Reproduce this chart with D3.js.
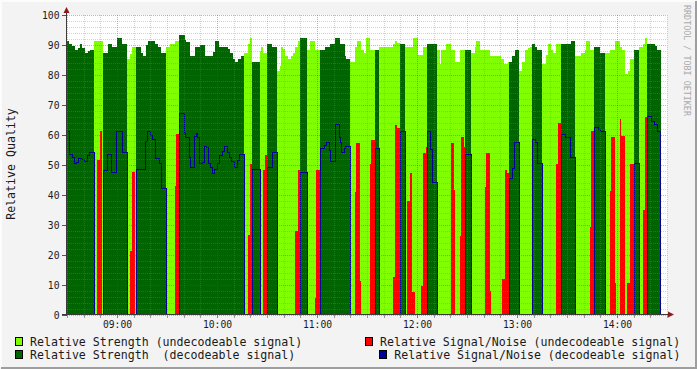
<!DOCTYPE html>
<meta charset="utf-8">
<title>Relative Quality</title>
<body>
<script src="https://d3js.org/d3.v7.min.js"></script>
<style>
  html, body { margin: 0; background: #f3f3f3; overflow: hidden; }
  svg { display: block; }
  text { font-family: "DejaVu Sans Mono", monospace; fill: #1a1a1a; }
</style>
<script>
  // Minutes are counted from 08:30, the left edge of the graph.
  var startTime = new Date(2011, 0, 1, 8, 30);
  var spanMinutes = 360;

  // [minute, value] steps
  var strength = [
    [0,91.3],[1.2,90.4],[3.2,89.7],[4.6,88.4],[6.6,89.1],[7.6,90.3],[9.2,89.1],[10.6,87.4],[12.6,88],[14,88.4],
    [16.2,91.3],[21.6,87.4],[24.6,90.3],[27.2,89.3],[30,92.3],[33,90.3],[36.2,85.3],[38,87.1],[39.2,89.3],[44.2,87.4],
    [45.6,86.4],[47.2,90.1],[48.6,91.3],[52.6,90.3],[54.6,89.3],[56.2,87.4],[59.2,89.4],[61.6,90.3],[64.6,91.3],[67,93.3],
    [70.6,91.6],[71.6,91.1],[73.6,86.4],[76.6,89.2],[79.6,90],[82.6,86.4],[87.6,87.7],[88.6,91.2],[91.2,89.4],[96.6,88.6],
    [98,87.5],[99.6,85.5],[100.6,84.4],[102.6,85.5],[104.2,86.4],[106.2,87.5],[108.6,90.3],[109.6,92.2],[111,84.4],[115.6,88.1],
    [116.6,89.4],[117.6,87.5],[120.2,90.3],[123.2,89.4],[126.2,81.4],[127.6,83],[128.6,89.4],[129.6,88.6],[131,86.4],[132.6,85.5],
    [134.2,86.4],[135.6,87.5],[137,89.4],[138.6,91.3],[139.6,92.3],[144.2,88.4],[146,91.3],[148.6,88.4],[154.6,89.4],[157.6,90.3],
    [160.6,92.3],[163.6,90.3],[166.6,86.4],[167.6,85.3],[170,84.4],[172.6,89.4],[174,91.3],[176.6,88.4],[178.2,87.5],[179.2,92.3],
    [181.6,88.4],[187.4,89.4],[195.6,90.3],[197,91.3],[198.2,90.8],[199.6,90.3],[202.6,89.4],[207.6,92.3],[210.6,86.7],[213.6,89.4],
    [216.2,90.3],[222.2,88.4],[223.6,83.6],[224.6,88.4],[227.6,90.3],[230.2,88.4],[233,84.5],[235.6,88.4],[242.2,87.4],[244.6,89.4],
    [245.6,91.3],[247.6,88.4],[253.6,86.4],[260.6,85.3],[262.2,83.6],[264.6,84.5],[267.2,86.4],[268.6,88.4],[271.2,81.4],[273,84.5],
    [274.6,88.4],[276.6,89],[278,89.4],[279.2,90.3],[280.6,89.4],[282.2,88.4],[285.2,83.6],[287.2,86.7],[288.6,90.3],[290.2,88.4],
    [291.6,87.4],[293.2,90.3],[302.2,91.3],[305,86.4],[308.2,87.4],[310.6,88.4],[311.6,91.3],[313.6,88.4],[316.2,89.4],[319.6,87.4],
    [325.6,88.4],[328.6,91.3],[331.6,89.4],[333,88.4],[334.6,80.5],[336.6,81.4],[338,85.5],[340.2,88.4],[343.2,89.4],[345.6,90.3],
    [347,92.3],[348,90.3],[352.6,89.8],[354.2,88.4],[356.2,0]
  ];

  var snr = [
    [0,61],[1.2,53.2],[3.2,52.4],[4.2,50.2],[5.6,50.7],[6.6,52.1],[8.6,51.6],[10,51.1],[12,52.9],[13.2,54.1],
    [16.2,0],[18.2,51.8],[19.6,61.3],[21.2,0],[21.6,47.9],[24,53.2],[26.6,47.2],[29.6,61.1],[33.2,54.1],[36.2,0],
    [38,21.2],[39.2,47.7],[40.6,0],[41.2,48.3],[46.6,57.6],[48,61.1],[50,59.6],[51.2,58.3],[52.6,52.1],[55.2,50.2],
    [56.2,42.1],[59.2,0],[64.6,43.1],[65.6,60.2],[67,67.1],[70.2,60.2],[71,59.1],[73,52.4],[74,49],[76.4,59.3],
    [77.2,60.2],[78.2,59.1],[79.2,50.2],[81.2,50.7],[82.2,56.1],[83.2,55.7],[84.6,50.2],[86,49],[87,47],[88.2,48.2],
    [90.2,50.2],[91.2,53],[93,54.3],[94.2,56.1],[96,54.1],[97.2,52.2],[98.6,50.9],[100,49],[102.2,51.3],[103,53.2],
    [106.2,0],[108.4,26.8],[109.6,50.2],[111,48.2],[115.6,0],[117.6,48.5],[118.6,53.3],[120.2,49],[123.2,54.1],[126.2,0],
    [137,28.1],[138.6,48.2],[139.6,47.2],[144.2,0],[148.6,5.8],[149.6,48.2],[151.6,55.2],[154.2,56.3],[155.2,57.2],[157.2,54.6],
    [158,51.1],[160.6,63.2],[163,59.1],[163.6,57.4],[164.2,54.1],[166.2,55.2],[167,56.1],[170,0],[172.6,40.9],[173.6,57.2],
    [175.6,11.5],[176.2,0],[181.6,50.5],[182.2,58.2],[184.6,55.2],[187.4,0],[195.4,12.8],[196.6,63.2],[198.2,62.2],[199.6,61.1],
    [202.6,0],[204.2,37.9],[205.6,47.2],[207.2,7.8],[208.6,0],[212.2,9.8],[213.6,54.1],[215.2,56.1],[216.2,61.1],[217.6,55],
    [219,44],[222.2,0],[230.2,57.2],[232.2,41.8],[233,0],[235.6,26.4],[236.2,59.2],[238,56],[239,53.2],[242.2,0],
    [250.6,42.6],[251.6,54.1],[253.6,8],[254.2,0],[261.2,12],[262.6,48.2],[264.2,47.2],[265.2,45.2],[267.2,48.7],[268.2,57.2],
    [271.2,0],[279.2,58.2],[281,57.4],[282.2,50.2],[285.2,0],[293.2,50.2],[294.6,64.1],[296.2,60],[298.6,59.1],[301.6,52.2],
    [305,0],[313.6,29.5],[314.2,61.3],[316.2,62.2],[318.6,61.6],[319.6,61.1],[323,0],[325.6,41.5],[326.2,59.3],[328.6,10.6],
    [329.6,0],[331.6,65.2],[332.6,59.6],[334.6,0],[336.2,10.6],[337.6,50.2],[343,0],[345.6,35.1],[346.6,66.1],[350.6,64.4],
    [352.2,63.5],[354,61.1],[355.6,0]
  ];

  // [from, to] minutes where the signal was decodeable
  var decodeRuns = [
    [0,16.2],[21.6,36.2],[41.2,59.2],[67,106.2],[111,115.6],[120.2,126.2],[139.6,144.2],[151.6,170],[184.6,187.4],
    [199.6,202.6],[216.2,222.2],[239,242.2],[265.2,271.2],[279.2,285.2],[296.2,305],[316.2,323],[340.2,343],[348,356.2]
  ];

  var yTicks = d3.range(0, 101, 10);
  var legendLabels = [
    "Relative Strength (undecodeable signal)",
    "Relative Strength  (decodeable signal)",
    "Relative Signal/Noise (undecodeable signal)",
    "Relative Signal/Noise (decodeable signal)"
  ];
  var colors = ["#80ff00", "#006400", "#ff0000", "#000099"];

  var W = 697, H = 369;
  var svg = d3.select("body").append("svg").attr("width", W).attr("height", H);

  var at = function(m) { return new Date(+startTime + m * 60000); };
  var x = d3.scaleTime().domain([startTime, at(spanMinutes)]).range([67, 667]);
  var y = d3.scaleLinear().domain([0, 100]).range([315, 15]);

  // frame
  svg.append("rect").attr("width", W).attr("height", H).attr("fill", "#f3f3f3");
  svg.append("path").attr("d", "M0,1H696M1,0V368").attr("stroke", "#fcfcfc").attr("stroke-width", 2);
  svg.append("path").attr("d", "M1,368H697M696,1V369").attr("stroke", "#9e9e9e").attr("stroke-width", 2);

  svg.append("rect").attr("x", 67).attr("y", 15).attr("width", 600).attr("height", 300).attr("fill", "#fff");

  // merge the step series on one time grid
  function stepAt(series, t) {
    var v = 0;
    for (var i = 0; i < series.length && series[i][0] <= t; i++) v = series[i][1];
    return v;
  }
  function decodeable(t) { return decodeRuns.some(function(r) { return t >= r[0] && t < r[1]; }); }
  var times = Array.from(new Set(strength.map(d => d[0]).concat(snr.map(d => d[0]), decodeRuns.flat())))
    .sort((a, b) => a - b);
  var rows = times.map(function(t) {
    var dec = decodeable(t), s = stepAt(strength, t), n = stepAt(snr, t);
    return { t: t, su: dec ? 0 : s, sd: dec ? s : 0, nu: dec ? 0 : n, nd: dec ? n : 0 };
  });

  var plot = svg.append("g");
  ["su", "sd", "nu"].forEach(function(k, i) {
    plot.append("path")
      .datum(rows)
      .attr("fill", colors[i])
      .attr("shape-rendering", "crispEdges")
      .attr("d", d3.area().curve(d3.curveStepAfter)
        .x(d => x(at(d.t))).y0(y(0)).y1(d => y(d[k])));
  });

  // grid on top of the areas, rrdtool style
  var grid = svg.append("g").attr("shape-rendering", "crispEdges").attr("stroke-dasharray", "1,1");
  x.ticks(d3.timeMinute.every(10)).forEach(function(d) {
    var major = d.getMinutes() === 0;
    grid.append("line")
      .attr("x1", x(d) + 0.5).attr("x2", x(d) + 0.5).attr("y1", 15).attr("y2", 315)
      .attr("stroke", major ? "rgba(200,30,30,0.4)" : "rgba(128,128,128,0.35)");
  });
  d3.range(0, 101, 2).forEach(function(v) {
    var major = v % 10 === 0;
    grid.append("line")
      .attr("x1", 67).attr("x2", 667).attr("y1", y(v) + 0.5).attr("y2", y(v) + 0.5)
      .attr("stroke", major ? "rgba(200,30,30,0.4)" : "rgba(128,128,128,0.35)");
  });

  // decodeable signal/noise line
  plot.append("path")
    .datum(rows)
    .attr("fill", "none")
    .attr("stroke", colors[3])
    .attr("stroke-width", 1)
    .attr("shape-rendering", "crispEdges")
    .attr("d", d3.line().curve(d3.curveStepAfter)
      .x(d => x(at(d.t)) + 0.5).y(d => Math.round(y(d.nd)) - 0.5));

  // axes
  var ax = svg.append("g").attr("shape-rendering", "crispEdges");
  yTicks.forEach(function(v) {
    ax.append("line").attr("x1", 62).attr("x2", 67).attr("y1", y(v) + 0.5).attr("y2", y(v) + 0.5).attr("stroke", "#555");
  });
  x.ticks(d3.timeMinute.every(10)).forEach(function(d) {
    ax.append("line").attr("x1", x(d) + 0.5).attr("x2", x(d) + 0.5).attr("y1", 315).attr("y2", 318)
      .attr("stroke", d.getMinutes() === 0 ? "#c06060" : "#999");
  });
  ax.append("line").attr("x1", 66.5).attr("x2", 66.5).attr("y1", 12).attr("y2", 316).attr("stroke", "#3a3a3a");
  ax.append("line").attr("x1", 62).attr("x2", 669).attr("y1", 314.5).attr("y2", 314.5).attr("stroke", "#3a3a3a");
  svg.append("path").attr("d", "M66.5,7L63.5,13L69.5,13Z").attr("fill", "#8b1a1a");
  svg.append("path").attr("d", "M674,314.5L668,311.5L668,317.5Z").attr("fill", "#8b1a1a");

  var xAxis = svg.append("g").attr("transform", "translate(0,315)")
    .call(d3.axisBottom(x).ticks(d3.timeHour.every(1)).tickFormat(d3.timeFormat("%H:%M")).tickSize(0).tickPadding(6));
  var yAxis = svg.append("g").attr("transform", "translate(66,0)")
    .call(d3.axisLeft(y).tickValues(yTicks).tickSize(0).tickPadding(6.5));
  [xAxis, yAxis].forEach(function(g) {
    g.select(".domain").remove();
    g.selectAll("text").style("font-family", "DejaVu Sans Mono").style("font-size", "9.7px").attr("fill", "#1a1a1a");
  });

  svg.append("text")
    .attr("transform", "translate(15,164) rotate(-90)")
    .attr("text-anchor", "middle")
    .style("font-size", "11.6px")
    .text("Relative Quality");

  svg.append("text")
    .attr("transform", "translate(684,5) rotate(90)")
    .style("font-size", "8.4px")
    .attr("fill", "#aaa")
    .style("fill", "#aaa")
    .text("RRDTOOL / TOBI OETIKER");

  // legend
  var legendPos = [[15, 337, 30], [15, 350, 30], [365, 337, 380], [379, 350, 394.3]];
  legendLabels.forEach(function(label, i) {
    var p = legendPos[i];
    svg.append("rect").attr("x", p[0] + 0.5).attr("y", p[1] + 0.5).attr("width", 7).attr("height", 8)
      .attr("fill", colors[i]).attr("stroke", "#000").attr("shape-rendering", "crispEdges");
    svg.append("text").attr("x", p[2]).attr("y", p[1] + 8.5)
      .style("font-size", "11.6px").style("white-space", "pre")
      .text(label);
  });
</script>
